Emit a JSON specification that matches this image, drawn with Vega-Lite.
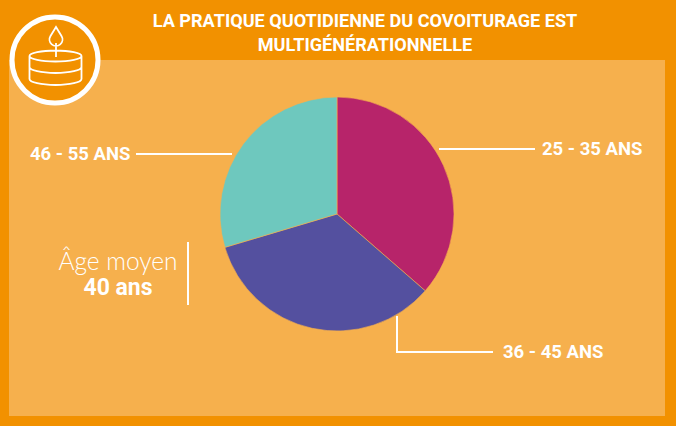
{
  "$schema": "https://vega.github.io/schema/vega-lite/v6.json",
  "width": 676,
  "height": 426,
  "padding": 0,
  "autosize": "none",
  "background": "#F29100",
  "view": {"stroke": null},
  "config": {"axis": null, "legend": null},
  "title": {
    "text": ["LA PRATIQUE QUOTIDIENNE DU COVOITURAGE EST", "MULTIGÉNÉRATIONNELLE"],
    "font": "Roboto",
    "fontWeight": "bold",
    "fontSize": 18.1,
    "lineHeight": 24,
    "color": "#FFFFFF",
    "anchor": "middle",
    "dx": 27,
    "offset": -55.5
  },
  "layer": [
    {
      "data": {"values": [{"panel": "fond"}]},
      "mark": {"type": "rect", "fill": "#F6B04D"},
      "encoding": {
        "x": {"datum": 9, "type": "quantitative", "axis": null, "scale": {"domain": [0, 676], "nice": false, "zero": false}},
        "x2": {"datum": 665},
        "y": {"datum": 60, "type": "quantitative", "axis": null, "scale": {"domain": [0, 426], "reverse": true, "nice": false, "zero": false}},
        "y2": {"datum": 416}
      }
    },
    {
      "data": {"values": [
        {"age": "25 - 35 ANS", "part": 36.4},
        {"age": "36 - 45 ANS", "part": 34.0},
        {"age": "46 - 55 ANS", "part": 29.6}
      ]},
      "mark": {"type": "arc", "outerRadius": 117, "stroke": "#F6B04D", "strokeWidth": 0.6},
      "encoding": {
        "theta": {"field": "part", "type": "quantitative", "stack": true},
        "color": {"field": "age", "type": "nominal", "legend": null, "scale": {"domain": ["25 - 35 ANS", "36 - 45 ANS", "46 - 55 ANS"], "range": ["#B7246A", "#54509F", "#6EC8BE"]}},
        "x": {"datum": 337, "type": "quantitative"},
        "y": {"datum": 214, "type": "quantitative"}
      }
    },
    {"data": {"values": [{"trait": "25 - 35 ANS"}]}, "mark": {"type": "rule", "color": "#FFFFFF", "strokeWidth": 2},
     "encoding": {"x": {"datum": 439, "type": "quantitative"}, "x2": {"datum": 535}, "y": {"datum": 149, "type": "quantitative"}}},
    {"data": {"values": [{"trait": "46 - 55 ANS"}]}, "mark": {"type": "rule", "color": "#FFFFFF", "strokeWidth": 2},
     "encoding": {"x": {"datum": 136, "type": "quantitative"}, "x2": {"datum": 232}, "y": {"datum": 154, "type": "quantitative"}}},
    {"data": {"values": [{"trait": "36 - 45 ANS"}]}, "mark": {"type": "rule", "color": "#FFFFFF", "strokeWidth": 2},
     "encoding": {"x": {"datum": 396, "type": "quantitative"}, "x2": {"datum": 493}, "y": {"datum": 352, "type": "quantitative"}}},
    {"data": {"values": [{"trait": "36 - 45 ANS"}]}, "mark": {"type": "rule", "color": "#FFFFFF", "strokeWidth": 2},
     "encoding": {"x": {"datum": 397, "type": "quantitative"}, "y": {"datum": 316, "type": "quantitative"}, "y2": {"datum": 353}}},
    {"data": {"values": [{"trait": "age moyen"}]}, "mark": {"type": "rule", "color": "#FFFFFF", "strokeWidth": 2},
     "encoding": {"x": {"datum": 188, "type": "quantitative"}, "y": {"datum": 242, "type": "quantitative"}, "y2": {"datum": 305}}},
    {"data": {"values": [{"label": "25 - 35 ANS"}]},
     "mark": {"type": "text", "font": "Roboto", "fontWeight": "bold", "fontSize": 18.5, "color": "#FFFFFF", "align": "left", "baseline": "middle"},
     "encoding": {"text": {"field": "label"}, "x": {"datum": 542, "type": "quantitative"}, "y": {"datum": 149, "type": "quantitative"}}},
    {"data": {"values": [{"label": "46 - 55 ANS"}]},
     "mark": {"type": "text", "font": "Roboto", "fontWeight": "bold", "fontSize": 18.5, "color": "#FFFFFF", "align": "left", "baseline": "middle"},
     "encoding": {"text": {"field": "label"}, "x": {"datum": 30, "type": "quantitative"}, "y": {"datum": 154, "type": "quantitative"}}},
    {"data": {"values": [{"label": "36 - 45 ANS"}]},
     "mark": {"type": "text", "font": "Roboto", "fontWeight": "bold", "fontSize": 18.5, "color": "#FFFFFF", "align": "left", "baseline": "middle"},
     "encoding": {"text": {"field": "label"}, "x": {"datum": 503, "type": "quantitative"}, "y": {"datum": 352, "type": "quantitative"}}},
    {"data": {"values": [{"label": "Âge moyen"}]},
     "mark": {"type": "text", "font": "Lato", "fontWeight": 300, "fontSize": 24.5, "color": "#FFFFFF", "align": "center", "baseline": "middle"},
     "encoding": {"text": {"field": "label"}, "x": {"datum": 118, "type": "quantitative"}, "y": {"datum": 263, "type": "quantitative"}}},
    {"data": {"values": [{"label": "40 ans"}]},
     "mark": {"type": "text", "font": "Roboto", "fontWeight": "bold", "fontSize": 23, "color": "#FFFFFF", "align": "center", "baseline": "middle"},
     "encoding": {"text": {"field": "label"}, "x": {"datum": 118, "type": "quantitative"}, "y": {"datum": 288, "type": "quantitative"}}},
    {"data": {"values": [{"icone": "anneau"}]},
     "mark": {"type": "point", "shape": "circle", "size": 7396, "fill": "#F29100", "filled": true, "stroke": "#FFFFFF", "strokeWidth": 5, "opacity": 1},
     "encoding": {"x": {"datum": 55, "type": "quantitative"}, "y": {"datum": 60, "type": "quantitative"}}},
    {"data": {"values": [{"icone": "gâteau"}]},
     "mark": {"type": "point", "size": 4, "filled": false, "stroke": "#FFFFFF", "strokeWidth": 1.8, "opacity": 1,
       "shape": "M-25.5 -4 A26 5.5 0 1 1 26.5 -4 A26 5.5 0 1 1 -25.5 -4 M-25.5 -4 L-25.5 19 A26 6 0 0 0 26.5 19 L26.5 -4 M-25.5 7 A26 6 0 0 0 26.5 7 M1 -33 L-4.5 -24 A6.5 6.5 0 1 0 6.5 -24 Z M1 -17 L1 -3"},
     "encoding": {"x": {"datum": 55, "type": "quantitative"}, "y": {"datum": 60, "type": "quantitative"}}}
  ]
}
